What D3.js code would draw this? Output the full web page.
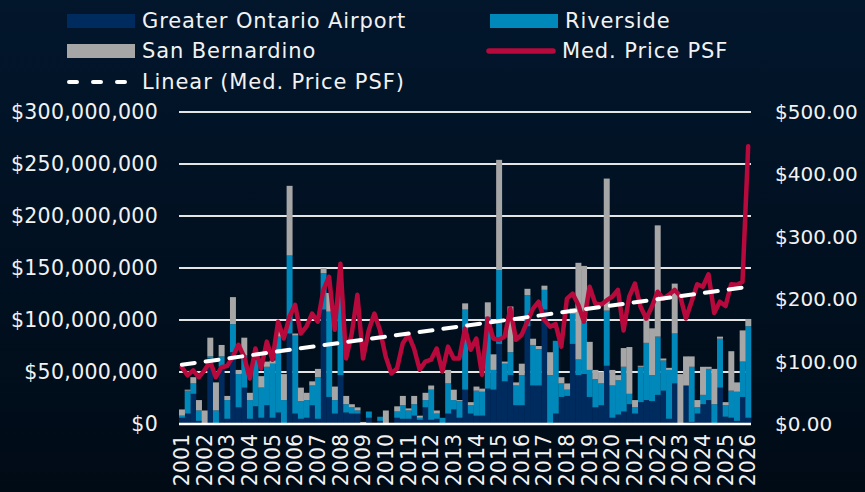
<!DOCTYPE html>
<html>
<head>
<meta charset="utf-8">
<script src="https://cdn.jsdelivr.net/npm/d3@7"></script>
<style>
    body { margin: 0; padding: 0; background: #000c18; }
    svg { display: block; }
</style>
</head>
<body>
<div id="chart"></div>
<script>

// years on the axis (one label per year, 4 quarters each)
var years = ["2001", "2002", "2003", "2004", "2005", "2006", "2007", "2008", "2009", "2010",
    "2011", "2012", "2013", "2014", "2015", "2016", "2017", "2018", "2019", "2020",
    "2021", "2022", "2023", "2024", "2025", "2026"]

// sales volume in $M per quarter
var ontario = [6, 10, 29, 3, 0, 63, 0, 55, 5, 69, 16, 35, 5, 17, 6, 18, 6, 11, 0, 87,
    10, 5, 6, 18, 5, 110, 26, 10, 47, 11, 10, 10, 0, 6, 1, 3, 0, 0, 6, 5,
    5, 8, 4, 16, 4, 5, 0, 10, 14, 6, 33, 10, 8, 8, 34, 33, 77, 41, 47, 18,
    18, 94, 37, 37, 110, 0, 10, 26, 27, 77, 47, 48, 26, 16, 18, 56, 6, 9, 12, 19,
    10, 21, 23, 22, 28, 32, 5, 39, 0, 37, 2, 10, 19, 23, 0, 35, 7, 6, 3, 26, 6]
var riverside = [2, 22, 10, 10, 0, 2, 13, 10, 18, 27, 32, 31, 18, 45, 29, 37, 52, 73, 23, 75,
    75, 17, 17, 19, 40, 35, 82, 13, 77, 8, 6, 3, 0, 6, 0, 4, 0, 0, 6, 13,
    8, 11, 2, 7, 29, 5, 6, 29, 9, 16, 77, 8, 24, 23, 69, 19, 71, 17, 22, 19,
    29, 30, 39, 35, 19, 47, 70, 13, 6, 29, 15, 50, 26, 27, 21, 53, 31, 33, 43, 10,
    6, 34, 55, 25, 56, 29, 47, 48, 0, 0, 53, 6, 9, 30, 19, 47, 11, 26, 28, 34, 88]
var sanBernardino = [6, 1, 6, 10, 13, 18, 27, 11, 4, 26, 4, 17, 7, 0, 11, 5, 3, 8, 25, 67,
    2, 13, 7, 4, 8, 5, 18, 13, 0, 8, 3, 3, 2, 0, 0, 0, 13, 0, 5, 9,
    2, 8, 2, 7, 4, 3, 0, 13, 10, 1, 6, 3, 4, 3, 14, 15, 106, 2, 44, 3,
    11, 6, 6, 3, 4, 22, 0, 6, 6, 5, 93, 54, 27, 9, 11, 127, 15, 5, 18, 45,
    7, 1, 26, 45, 107, 2, 2, 48, 48, 28, 10, 7, 27, 2, 34, 2, 3, 38, 9, 30, 7]

// median price per square foot
var medPrice = [91, 78, 86, 75, 86, 100, 75, 91, 93, 108, 127, 108, 73, 121, 89, 132, 103, 164, 137, 172,
    191, 145, 156, 177, 164, 215, 236, 151, 257, 105, 145, 207, 105, 150, 177, 150, 108, 81, 89, 129,
    143, 121, 87, 100, 103, 121, 84, 124, 105, 105, 153, 119, 137, 79, 169, 137, 135, 140, 185, 135,
    143, 164, 185, 196, 167, 156, 160, 124, 201, 209, 191, 164, 220, 193, 191, 198, 204, 215, 150, 204,
    225, 188, 169, 188, 212, 201, 207, 215, 205, 169, 196, 224, 220, 240, 178, 196, 189, 224, 223, 228, 445]

var leftTicks = [0, 50, 100, 150, 200, 250, 300]
var rightTicks = [0, 100, 200, 300, 400, 500]

const width = 865, height = 492
const plot = {left: 179, right: 751, top: 112, bottom: 424}

const colors = {ontario: "#002b5e", riverside: "#0088ba", sanBernardino: "#a6a6a6", line: "#b8093c"}

// build the rows for the stack
var quarters = []
years.forEach(function (y) {
    ["Q1", "Q2", "Q3", "Q4"].forEach(function (q) {
        quarters.push(y + " " + q)
    })
})
quarters = quarters.slice(0, ontario.length)

var rows = quarters.map(function (q, i) {
    return {q: q, ontario: ontario[i], riverside: riverside[i], sanBernardino: sanBernardino[i], price: medPrice[i]}
})

const svg = d3.select("#chart").append("svg")
    .attr("width", width)
    .attr("height", height)

// background
const defs = svg.append("defs")
const grad = defs.append("linearGradient").attr("id", "bg").attr("x1", 0).attr("y1", 0).attr("x2", 0).attr("y2", 1)
grad.append("stop").attr("offset", "0%").attr("stop-color", "#02162c")
grad.append("stop").attr("offset", "100%").attr("stop-color", "#000b16")
svg.append("rect").attr("width", width).attr("height", height).attr("fill", "url(#bg)")

const x = d3.scaleBand()
    .domain(quarters)
    .range([plot.left, plot.right])
    .padding(0)

const y = d3.scaleLinear()
    .domain([0, 300])
    .range([plot.bottom, plot.top])

const y2 = d3.scaleLinear()
    .domain([0, 500])
    .range([plot.bottom, plot.top])

// gridlines
svg.append("g")
    .selectAll("line")
    .data(leftTicks.slice(1))
    .join("line")
    .attr("x1", plot.left)
    .attr("x2", plot.right)
    .attr("y1", function (d) { return y(d) })
    .attr("y2", function (d) { return y(d) })
    .attr("stroke", "#e4e4e4")
    .attr("stroke-width", 2)

// stacked bars
const stack = d3.stack().keys(["ontario", "riverside", "sanBernardino"])
const series = stack(rows)

svg.append("g")
    .selectAll("g")
    .data(series)
    .join("g")
    .attr("fill", function (d) { return colors[d.key] })
    .selectAll("rect")
    .data(function (d) { return d })
    .join("rect")
    .attr("x", function (d) { return x(d.data.q) })
    .attr("width", x.bandwidth() + 0.3)
    .attr("y", function (d) { return y(d[1]) })
    .attr("height", function (d) { return y(d[0]) - y(d[1]) })

// base line
svg.append("line")
    .attr("x1", plot.left)
    .attr("x2", plot.right)
    .attr("y1", y(0))
    .attr("y2", y(0))
    .attr("stroke", "#ffffff")
    .attr("stroke-width", 2.5)

// price line
svg.append("path")
    .datum(rows)
    .attr("fill", "none")
    .attr("stroke", colors.line)
    .attr("stroke-width", 4.5)
    .attr("stroke-linejoin", "round")
    .attr("stroke-linecap", "round")
    .attr("d", d3.line()
        .x(function (d) { return x(d.q) + x.bandwidth() / 2 })
        .y(function (d) { return y2(d.price) }))

// linear trend of the price (least squares like excel does)
var n = medPrice.length
var mx = d3.mean(medPrice, function (d, i) { return i })
var my = d3.mean(medPrice)
var sxy = d3.sum(medPrice, function (d, i) { return (i - mx) * (d - my) })
var sxx = d3.sum(medPrice, function (d, i) { return (i - mx) * (i - mx) })
var slope = sxy / sxx
var icpt = my - slope * mx

svg.append("line")
    .attr("x1", x(quarters[0]) + x.bandwidth() / 2)
    .attr("x2", x(quarters[n - 1]) + x.bandwidth() / 2)
    .attr("y1", y2(icpt))
    .attr("y2", y2(icpt + slope * (n - 1)))
    .attr("stroke", "#ffffff")
    .attr("stroke-width", 4)
    .attr("stroke-linecap", "round")
    .attr("stroke-dasharray", "13,11")

const font = "'DejaVu Sans', sans-serif"

// left axis labels
svg.append("g")
    .selectAll("text")
    .data(leftTicks)
    .join("text")
    .attr("x", 158)
    .attr("y", function (d) { return y(d) })
    .attr("dy", "0.35em")
    .attr("text-anchor", "end")
    .attr("font-family", font)
    .attr("font-size", 20.5)
    .attr("letter-spacing", 0.3)
    .attr("fill", "#f2f2f2")
    .text(function (d) { return d3.format("$,")(d * 1e6) })

// right axis labels
svg.append("g")
    .selectAll("text")
    .data(rightTicks)
    .join("text")
    .attr("x", 775)
    .attr("y", function (d) { return y2(d) })
    .attr("dy", "0.35em")
    .attr("font-family", font)
    .attr("font-size", 20)
    .attr("fill", "#f2f2f2")
    .text(function (d) { return d3.format("$,.2f")(d) })

// x labels, one per year on Q1
svg.append("g")
    .selectAll("text")
    .data(years)
    .join("text")
    .attr("transform", function (d) {
        var cx = x(d + " Q1") + x.bandwidth() / 2
        return "translate(" + cx + ",434) rotate(-90)"
    })
    .attr("dy", "0.35em")
    .attr("text-anchor", "end")
    .attr("font-family", font)
    .attr("font-size", 20.5)
    .attr("fill", "#f2f2f2")
    .text(function (d) { return d })

// legend
var legendItems = [
    {label: "Greater Ontario Airport", type: "rect", color: colors.ontario, x: 67, y: 21},
    {label: "Riverside", type: "rect", color: colors.riverside, x: 490, y: 21},
    {label: "San Bernardino", type: "rect", color: colors.sanBernardino, x: 67, y: 51},
    {label: "Med. Price PSF", type: "line", color: colors.line, x: 487, y: 51},
    {label: "Linear (Med. Price PSF)", type: "dash", color: "#ffffff", x: 67, y: 82}
]

const legend = svg.append("g")
legendItems.forEach(function (it) {
    if (it.type == "rect") {
        legend.append("rect")
            .attr("x", it.x)
            .attr("y", it.y - 7)
            .attr("width", 68)
            .attr("height", 14)
            .attr("fill", it.color)
    } else if (it.type == "line") {
        legend.append("line")
            .attr("x1", it.x + 2).attr("x2", it.x + 66)
            .attr("y1", it.y).attr("y2", it.y)
            .attr("stroke", it.color)
            .attr("stroke-width", 5.5)
            .attr("stroke-linecap", "round")
    } else {
        legend.append("line")
            .attr("x1", it.x + 2).attr("x2", it.x + 66)
            .attr("y1", it.y).attr("y2", it.y)
            .attr("stroke", it.color)
            .attr("stroke-width", 4)
            .attr("stroke-linecap", "round")
            .attr("stroke-dasharray", "8,16")
    }
    legend.append("text")
        .attr("x", it.x + 75)
        .attr("y", it.y)
        .attr("dy", "0.35em")
        .attr("font-family", font)
        .attr("font-size", 21)
        .attr("letter-spacing", 0.9)
        .attr("fill", "#f2f2f2")
        .text(it.label)
})

</script>
</body>
</html>
